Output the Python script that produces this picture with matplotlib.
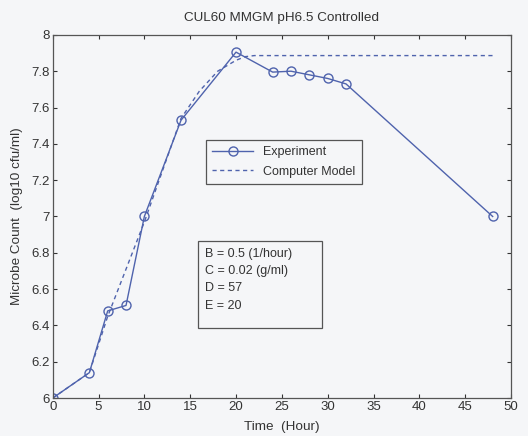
import matplotlib
matplotlib.use("Agg")
import matplotlib.pyplot as plt
from matplotlib.patches import Rectangle

plt.rcParams['font.family'] = ['Liberation Sans', 'DejaVu Sans']

# experiment data
t_exp = [0, 4, 6, 8, 10, 14, 20, 24, 26, 28, 30, 32, 48]
y_exp = [6.0, 6.14, 6.48, 6.51, 7.0, 7.53, 7.905, 7.795, 7.80, 7.78, 7.76, 7.73, 7.0]

# computer model
t_mod = [0, 4, 6, 10, 14, 16, 18, 20, 21, 22, 48]
y_mod = [6.0, 6.14, 6.45, 6.97, 7.54, 7.69, 7.80, 7.86, 7.88, 7.886, 7.886]

params = ["B = 0.5 (1/hour)", "C = 0.02 (g/ml)", "D = 57", "E = 20"]

blue = '#4f63ad'
bg = '#f5f6f8'
ink = '#333333'

fig = plt.figure(figsize=(5.28, 4.36), dpi=100, facecolor=bg)
ax = fig.add_axes([0.0998, 0.087, 0.868, 0.833], facecolor=bg)

ax.plot(t_exp, y_exp, '-o', color=blue, lw=1.0, ms=6.5, mfc='none', mew=1.0, label='Experiment')
ax.plot(t_mod, y_mod, '--', color=blue, lw=1.0, dashes=(3, 2.5), label='Computer Model')

ax.set_xlim(0, 50)
ax.set_ylim(6, 8)
ax.set_xticks(range(0, 51, 5))
ax.set_yticks([6, 6.2, 6.4, 6.6, 6.8, 7, 7.2, 7.4, 7.6, 7.8, 8])
ax.set_yticklabels(['6', '6.2', '6.4', '6.6', '6.8', '7', '7.2', '7.4', '7.6', '7.8', '8'])
ax.tick_params(direction='in', top=True, right=True, length=3, labelsize=9.5, colors=ink, pad=2)
for s in ax.spines.values():
    s.set_color('#555555')
    s.set_linewidth(0.9)

ax.set_title('CUL60 MMGM pH6.5 Controlled', fontsize=9.7, color=ink, pad=10)
ax.set_xlabel('Time  (Hour)', fontsize=9.7, color=ink, labelpad=6)
ax.set_ylabel('Microbe Count  (log10 cfu/ml)', fontsize=9.7, color=ink, labelpad=6)

leg = ax.legend(loc='upper left', bbox_to_anchor=(0.334, 0.711), borderaxespad=0,
                fancybox=False, framealpha=1, edgecolor='#555555', facecolor=bg,
                fontsize=9, handlelength=3.3, borderpad=0.5, labelspacing=0.6)
leg.get_frame().set_linewidth(0.9)
for txt in leg.get_texts():
    txt.set_color(ink)

ax.add_patch(Rectangle((0.317, 0.194), 0.270, 0.239, transform=ax.transAxes,
                       fill=False, edgecolor='#555555', lw=0.9))
for i, line in enumerate(params):
    ax.text(0.333, 0.397 - i * 0.0475, line, transform=ax.transAxes,
            fontsize=9, color=ink, va='center')

fig.savefig('out.png', dpi=100, facecolor=bg)
